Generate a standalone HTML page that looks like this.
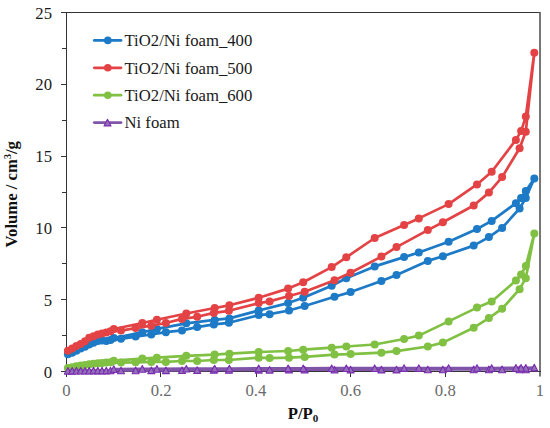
<!DOCTYPE html>
<html><head><meta charset="utf-8"><style>
html,body{margin:0;padding:0;background:#fff;}
body{width:550px;height:428px;overflow:hidden;font-family:"Liberation Serif",serif;}
svg{display:block;}
svg text{font-family:'Liberation Serif',serif;}
</style></head><body>
<svg width="550" height="428" viewBox="0 0 550 428">
<rect width="550" height="428" fill="#fff"/>
<g stroke="#333333" stroke-width="1" fill="none" shape-rendering="crispEdges">
<line x1="60.5" y1="12.5" x2="540" y2="12.5"/>
<line x1="66.5" y1="12" x2="66.5" y2="376.5"/>
</g>
<line x1="540" y1="12" x2="540" y2="376.5" stroke="#555" stroke-width="1.6"/>
<g stroke="#333333" stroke-width="1" shape-rendering="crispEdges"><line x1="60.5" y1="371.5" x2="66" y2="371.5"/><line x1="62" y1="335.5" x2="66" y2="335.5"/><line x1="60.5" y1="299.5" x2="66" y2="299.5"/><line x1="62" y1="263.5" x2="66" y2="263.5"/><line x1="60.5" y1="227.5" x2="66" y2="227.5"/><line x1="62" y1="192.5" x2="66" y2="192.5"/><line x1="60.5" y1="156.5" x2="66" y2="156.5"/><line x1="62" y1="120.5" x2="66" y2="120.5"/><line x1="60.5" y1="84.5" x2="66" y2="84.5"/><line x1="62" y1="48.5" x2="66" y2="48.5"/><line x1="60.5" y1="12.5" x2="66" y2="12.5"/></g>
<g stroke="#333333" stroke-width="1" shape-rendering="crispEdges"><line x1="66.5" y1="371" x2="66.5" y2="376.5"/><line x1="160.5" y1="371" x2="160.5" y2="376.5"/><line x1="256.5" y1="371" x2="256.5" y2="376.5"/><line x1="350.5" y1="371" x2="350.5" y2="376.5"/><line x1="445.5" y1="371" x2="445.5" y2="376.5"/></g>
<line x1="66" y1="371.5" x2="540.5" y2="371.5" stroke="#333333" stroke-width="1" shape-rendering="crispEdges"/>
<polyline points="67.9,354.3 72.2,352.8 76.4,350.7 80.7,348.5 85.0,346.8 89.2,344.5 93.5,342.8 97.8,341.1 102.0,340.6 106.3,340.9 110.5,339.9 121.0,338.8 135.6,336.6 151.3,334.5 165.9,332.2 182.0,330.4 197.2,327.1 213.8,324.4 228.9,322.8 258.7,315.1 269.6,314.2 289.0,310.5 304.7,306.0 334.5,296.8 350.6,292.1 381.4,281.0 396.5,274.9 427.8,260.9 442.9,256.2 473.7,245.6 488.9,237.1 502.1,227.9 519.6,208.5 525.8,198.0 534.3,178.4 525.8,191.0 521.1,198.0 515.9,203.2 491.7,220.9 477.0,229.0 448.6,241.8 418.8,252.5 404.1,257.1 374.7,266.4 346.3,278.2 331.7,285.8 303.2,297.8 288.1,303.1 258.7,310.5 229.4,318.4 214.7,319.9 186.3,323.3 156.9,328.9 142.3,332.2 113.8,338.0" fill="none" stroke="#1d7ac6" stroke-width="2.7" stroke-linejoin="round" stroke-linecap="round"/>
<g fill="#1d7ac6"><circle cx="67.9" cy="354.3" r="4.0"/><circle cx="72.2" cy="352.8" r="4.0"/><circle cx="76.4" cy="350.7" r="4.0"/><circle cx="80.7" cy="348.5" r="4.0"/><circle cx="85.0" cy="346.8" r="4.0"/><circle cx="89.2" cy="344.5" r="4.0"/><circle cx="93.5" cy="342.8" r="4.0"/><circle cx="97.8" cy="341.1" r="4.0"/><circle cx="102.0" cy="340.6" r="4.0"/><circle cx="106.3" cy="340.9" r="4.0"/><circle cx="110.5" cy="339.9" r="4.0"/><circle cx="121.0" cy="338.8" r="4.0"/><circle cx="135.6" cy="336.6" r="4.0"/><circle cx="151.3" cy="334.5" r="4.0"/><circle cx="165.9" cy="332.2" r="4.0"/><circle cx="182.0" cy="330.4" r="4.0"/><circle cx="197.2" cy="327.1" r="4.0"/><circle cx="213.8" cy="324.4" r="4.0"/><circle cx="228.9" cy="322.8" r="4.0"/><circle cx="258.7" cy="315.1" r="4.0"/><circle cx="269.6" cy="314.2" r="4.0"/><circle cx="289.0" cy="310.5" r="4.0"/><circle cx="304.7" cy="306.0" r="4.0"/><circle cx="334.5" cy="296.8" r="4.0"/><circle cx="350.6" cy="292.1" r="4.0"/><circle cx="381.4" cy="281.0" r="4.0"/><circle cx="396.5" cy="274.9" r="4.0"/><circle cx="427.8" cy="260.9" r="4.0"/><circle cx="442.9" cy="256.2" r="4.0"/><circle cx="473.7" cy="245.6" r="4.0"/><circle cx="488.9" cy="237.1" r="4.0"/><circle cx="502.1" cy="227.9" r="4.0"/><circle cx="519.6" cy="208.5" r="4.0"/><circle cx="525.8" cy="198.0" r="4.0"/><circle cx="534.3" cy="178.4" r="4.0"/><circle cx="525.8" cy="191.0" r="4.0"/><circle cx="521.1" cy="198.0" r="4.0"/><circle cx="515.9" cy="203.2" r="4.0"/><circle cx="491.7" cy="220.9" r="4.0"/><circle cx="477.0" cy="229.0" r="4.0"/><circle cx="448.6" cy="241.8" r="4.0"/><circle cx="418.8" cy="252.5" r="4.0"/><circle cx="404.1" cy="257.1" r="4.0"/><circle cx="374.7" cy="266.4" r="4.0"/><circle cx="346.3" cy="278.2" r="4.0"/><circle cx="331.7" cy="285.8" r="4.0"/><circle cx="303.2" cy="297.8" r="4.0"/><circle cx="288.1" cy="303.1" r="4.0"/><circle cx="258.7" cy="310.5" r="4.0"/><circle cx="229.4" cy="318.4" r="4.0"/><circle cx="214.7" cy="319.9" r="4.0"/><circle cx="186.3" cy="323.3" r="4.0"/><circle cx="156.9" cy="328.9" r="4.0"/><circle cx="142.3" cy="332.2" r="4.0"/><circle cx="113.8" cy="338.0" r="4.0"/></g>
<polyline points="67.9,350.7 72.2,348.5 76.4,345.9 80.7,343.9 85.0,341.3 89.2,337.8 93.5,336.3 97.8,334.5 102.0,333.4 106.3,332.4 110.5,331.3 121.0,330.6 135.6,328.1 151.3,325.7 165.9,323.0 182.0,318.9 197.2,316.8 213.8,312.9 228.9,310.8 258.7,303.1 269.6,301.4 289.0,296.0 304.7,291.8 334.5,280.3 350.6,272.8 381.4,256.6 396.5,247.1 427.8,230.1 442.9,222.3 473.7,205.5 488.9,192.6 502.1,177.1 519.6,148.2 525.8,131.7 534.3,52.7 525.8,116.6 521.1,131.1 515.9,139.9 491.7,171.8 477.0,184.4 448.6,204.1 418.8,218.4 404.1,225.0 374.7,238.0 346.3,257.3 331.7,267.1 303.2,282.2 288.1,288.6 258.7,297.8 229.4,305.3 214.7,308.0 186.3,313.5 156.9,319.7 142.3,323.0 113.8,329.0" fill="none" stroke="#e44345" stroke-width="2.7" stroke-linejoin="round" stroke-linecap="round"/>
<g fill="#e44345"><circle cx="67.9" cy="350.7" r="4.0"/><circle cx="72.2" cy="348.5" r="4.0"/><circle cx="76.4" cy="345.9" r="4.0"/><circle cx="80.7" cy="343.9" r="4.0"/><circle cx="85.0" cy="341.3" r="4.0"/><circle cx="89.2" cy="337.8" r="4.0"/><circle cx="93.5" cy="336.3" r="4.0"/><circle cx="97.8" cy="334.5" r="4.0"/><circle cx="102.0" cy="333.4" r="4.0"/><circle cx="106.3" cy="332.4" r="4.0"/><circle cx="110.5" cy="331.3" r="4.0"/><circle cx="121.0" cy="330.6" r="4.0"/><circle cx="135.6" cy="328.1" r="4.0"/><circle cx="151.3" cy="325.7" r="4.0"/><circle cx="165.9" cy="323.0" r="4.0"/><circle cx="182.0" cy="318.9" r="4.0"/><circle cx="197.2" cy="316.8" r="4.0"/><circle cx="213.8" cy="312.9" r="4.0"/><circle cx="228.9" cy="310.8" r="4.0"/><circle cx="258.7" cy="303.1" r="4.0"/><circle cx="269.6" cy="301.4" r="4.0"/><circle cx="289.0" cy="296.0" r="4.0"/><circle cx="304.7" cy="291.8" r="4.0"/><circle cx="334.5" cy="280.3" r="4.0"/><circle cx="350.6" cy="272.8" r="4.0"/><circle cx="381.4" cy="256.6" r="4.0"/><circle cx="396.5" cy="247.1" r="4.0"/><circle cx="427.8" cy="230.1" r="4.0"/><circle cx="442.9" cy="222.3" r="4.0"/><circle cx="473.7" cy="205.5" r="4.0"/><circle cx="488.9" cy="192.6" r="4.0"/><circle cx="502.1" cy="177.1" r="4.0"/><circle cx="519.6" cy="148.2" r="4.0"/><circle cx="525.8" cy="131.7" r="4.0"/><circle cx="534.3" cy="52.7" r="4.0"/><circle cx="525.8" cy="116.6" r="4.0"/><circle cx="521.1" cy="131.1" r="4.0"/><circle cx="515.9" cy="139.9" r="4.0"/><circle cx="491.7" cy="171.8" r="4.0"/><circle cx="477.0" cy="184.4" r="4.0"/><circle cx="448.6" cy="204.1" r="4.0"/><circle cx="418.8" cy="218.4" r="4.0"/><circle cx="404.1" cy="225.0" r="4.0"/><circle cx="374.7" cy="238.0" r="4.0"/><circle cx="346.3" cy="257.3" r="4.0"/><circle cx="331.7" cy="267.1" r="4.0"/><circle cx="303.2" cy="282.2" r="4.0"/><circle cx="288.1" cy="288.6" r="4.0"/><circle cx="258.7" cy="297.8" r="4.0"/><circle cx="229.4" cy="305.3" r="4.0"/><circle cx="214.7" cy="308.0" r="4.0"/><circle cx="186.3" cy="313.5" r="4.0"/><circle cx="156.9" cy="319.7" r="4.0"/><circle cx="142.3" cy="323.0" r="4.0"/><circle cx="113.8" cy="329.0" r="4.0"/></g>
<polyline points="67.9,367.9 72.2,367.2 76.4,366.3 80.7,365.5 85.0,364.9 89.2,364.3 93.5,363.7 97.8,363.2 102.0,362.9 106.3,362.6 110.5,362.3 121.0,362.6 135.6,362.3 151.3,361.9 165.9,361.9 182.0,361.0 197.2,361.0 213.8,360.0 228.9,360.0 258.7,357.7 269.6,358.1 289.0,357.7 304.7,356.9 334.5,354.6 350.6,354.1 381.4,352.7 396.5,351.1 427.8,346.5 442.9,342.6 473.7,327.7 488.9,318.1 502.1,308.7 519.6,289.2 525.8,278.2 534.3,233.6 525.8,266.0 521.1,274.6 515.9,280.6 491.7,301.6 477.0,307.6 448.6,321.4 418.8,335.6 404.1,339.0 374.7,344.5 346.3,346.5 331.7,347.7 303.2,349.7 288.1,351.0 258.7,352.0 229.4,353.7 214.7,354.6 186.3,355.8 156.9,357.7 142.3,358.6 113.8,360.7" fill="none" stroke="#80c043" stroke-width="2.7" stroke-linejoin="round" stroke-linecap="round"/>
<g fill="#80c043"><circle cx="67.9" cy="367.9" r="4.0"/><circle cx="72.2" cy="367.2" r="4.0"/><circle cx="76.4" cy="366.3" r="4.0"/><circle cx="80.7" cy="365.5" r="4.0"/><circle cx="85.0" cy="364.9" r="4.0"/><circle cx="89.2" cy="364.3" r="4.0"/><circle cx="93.5" cy="363.7" r="4.0"/><circle cx="97.8" cy="363.2" r="4.0"/><circle cx="102.0" cy="362.9" r="4.0"/><circle cx="106.3" cy="362.6" r="4.0"/><circle cx="110.5" cy="362.3" r="4.0"/><circle cx="121.0" cy="362.6" r="4.0"/><circle cx="135.6" cy="362.3" r="4.0"/><circle cx="151.3" cy="361.9" r="4.0"/><circle cx="165.9" cy="361.9" r="4.0"/><circle cx="182.0" cy="361.0" r="4.0"/><circle cx="197.2" cy="361.0" r="4.0"/><circle cx="213.8" cy="360.0" r="4.0"/><circle cx="228.9" cy="360.0" r="4.0"/><circle cx="258.7" cy="357.7" r="4.0"/><circle cx="269.6" cy="358.1" r="4.0"/><circle cx="289.0" cy="357.7" r="4.0"/><circle cx="304.7" cy="356.9" r="4.0"/><circle cx="334.5" cy="354.6" r="4.0"/><circle cx="350.6" cy="354.1" r="4.0"/><circle cx="381.4" cy="352.7" r="4.0"/><circle cx="396.5" cy="351.1" r="4.0"/><circle cx="427.8" cy="346.5" r="4.0"/><circle cx="442.9" cy="342.6" r="4.0"/><circle cx="473.7" cy="327.7" r="4.0"/><circle cx="488.9" cy="318.1" r="4.0"/><circle cx="502.1" cy="308.7" r="4.0"/><circle cx="519.6" cy="289.2" r="4.0"/><circle cx="525.8" cy="278.2" r="4.0"/><circle cx="534.3" cy="233.6" r="4.0"/><circle cx="525.8" cy="266.0" r="4.0"/><circle cx="521.1" cy="274.6" r="4.0"/><circle cx="515.9" cy="280.6" r="4.0"/><circle cx="491.7" cy="301.6" r="4.0"/><circle cx="477.0" cy="307.6" r="4.0"/><circle cx="448.6" cy="321.4" r="4.0"/><circle cx="418.8" cy="335.6" r="4.0"/><circle cx="404.1" cy="339.0" r="4.0"/><circle cx="374.7" cy="344.5" r="4.0"/><circle cx="346.3" cy="346.5" r="4.0"/><circle cx="331.7" cy="347.7" r="4.0"/><circle cx="303.2" cy="349.7" r="4.0"/><circle cx="288.1" cy="351.0" r="4.0"/><circle cx="258.7" cy="352.0" r="4.0"/><circle cx="229.4" cy="353.7" r="4.0"/><circle cx="214.7" cy="354.6" r="4.0"/><circle cx="186.3" cy="355.8" r="4.0"/><circle cx="156.9" cy="357.7" r="4.0"/><circle cx="142.3" cy="358.6" r="4.0"/><circle cx="113.8" cy="360.7" r="4.0"/></g>
<polyline points="67.9,370.8 72.2,370.8 76.4,370.7 80.7,370.7 85.0,370.7 89.2,370.7 93.5,370.6 97.8,370.6 102.0,370.6 106.3,370.6 110.5,370.5 121.0,370.5 135.6,370.4 151.3,370.3 165.9,370.3 182.0,370.2 197.2,370.1 213.8,370.0 228.9,369.9 258.7,369.8 269.6,369.8 289.0,369.7 304.7,369.7 334.5,369.7 350.6,369.6 381.4,369.6 396.5,369.6 427.8,369.5 442.9,369.5 473.7,369.4 488.9,369.4 502.1,369.4 519.6,369.4 525.8,369.4 534.3,367.6 525.8,367.9 521.1,367.9 515.9,367.9 491.7,368.0 477.0,368.0 448.6,368.0 418.8,368.1 404.1,368.1 374.7,368.2 346.3,368.2 331.7,368.2 303.2,368.3 288.1,368.3 258.7,368.3 229.4,368.5 214.7,368.6 186.3,368.7 156.9,368.9 142.3,368.9 113.8,369.1" fill="none" stroke="#8055a8" stroke-width="2.7" stroke-linejoin="round" stroke-linecap="round"/>
<g fill="#9470b8" stroke="#7a2db0" stroke-width="1.1" stroke-linejoin="round"><path d="M67.9,367.5L71.4,374.1L64.4,374.1Z"/><path d="M72.2,367.5L75.7,374.1L68.7,374.1Z"/><path d="M76.4,367.4L79.9,374.0L72.9,374.0Z"/><path d="M80.7,367.4L84.2,374.0L77.2,374.0Z"/><path d="M85.0,367.4L88.5,374.0L81.5,374.0Z"/><path d="M89.2,367.4L92.7,374.0L85.7,374.0Z"/><path d="M93.5,367.3L97.0,373.9L90.0,373.9Z"/><path d="M97.8,367.3L101.3,373.9L94.3,373.9Z"/><path d="M102.0,367.3L105.5,373.9L98.5,373.9Z"/><path d="M106.3,367.3L109.8,373.9L102.8,373.9Z"/><path d="M110.5,367.2L114.0,373.8L107.0,373.8Z"/><path d="M121.0,367.2L124.5,373.8L117.5,373.8Z"/><path d="M135.6,367.1L139.1,373.7L132.1,373.7Z"/><path d="M151.3,367.0L154.8,373.6L147.8,373.6Z"/><path d="M165.9,367.0L169.4,373.6L162.4,373.6Z"/><path d="M182.0,366.9L185.5,373.5L178.5,373.5Z"/><path d="M197.2,366.8L200.7,373.4L193.7,373.4Z"/><path d="M213.8,366.7L217.3,373.3L210.3,373.3Z"/><path d="M228.9,366.6L232.4,373.2L225.4,373.2Z"/><path d="M258.7,366.5L262.2,373.1L255.2,373.1Z"/><path d="M269.6,366.5L273.1,373.1L266.1,373.1Z"/><path d="M289.0,366.4L292.5,373.0L285.5,373.0Z"/><path d="M304.7,366.4L308.2,373.0L301.2,373.0Z"/><path d="M334.5,366.4L338.0,373.0L331.0,373.0Z"/><path d="M350.6,366.3L354.1,372.9L347.1,372.9Z"/><path d="M381.4,366.3L384.9,372.9L377.9,372.9Z"/><path d="M396.5,366.3L400.0,372.9L393.0,372.9Z"/><path d="M427.8,366.2L431.3,372.8L424.3,372.8Z"/><path d="M442.9,366.2L446.4,372.8L439.4,372.8Z"/><path d="M473.7,366.1L477.2,372.7L470.2,372.7Z"/><path d="M488.9,366.1L492.4,372.7L485.4,372.7Z"/><path d="M502.1,366.1L505.6,372.7L498.6,372.7Z"/><path d="M519.6,366.1L523.1,372.7L516.1,372.7Z"/><path d="M525.8,366.1L529.3,372.7L522.3,372.7Z"/><path d="M534.3,364.3L537.8,370.9L530.8,370.9Z"/><path d="M525.8,364.6L529.3,371.2L522.3,371.2Z"/><path d="M521.1,364.6L524.6,371.2L517.6,371.2Z"/><path d="M515.9,364.6L519.4,371.2L512.4,371.2Z"/><path d="M491.7,364.7L495.2,371.3L488.2,371.3Z"/><path d="M477.0,364.7L480.5,371.3L473.5,371.3Z"/><path d="M448.6,364.7L452.1,371.3L445.1,371.3Z"/><path d="M418.8,364.8L422.3,371.4L415.3,371.4Z"/><path d="M404.1,364.8L407.6,371.4L400.6,371.4Z"/><path d="M374.7,364.9L378.2,371.5L371.2,371.5Z"/><path d="M346.3,364.9L349.8,371.5L342.8,371.5Z"/><path d="M331.7,364.9L335.2,371.5L328.2,371.5Z"/><path d="M303.2,365.0L306.8,371.6L299.8,371.6Z"/><path d="M288.1,365.0L291.6,371.6L284.6,371.6Z"/><path d="M258.7,365.0L262.2,371.6L255.2,371.6Z"/><path d="M229.4,365.2L232.9,371.8L225.9,371.8Z"/><path d="M214.7,365.3L218.2,371.9L211.2,371.9Z"/><path d="M186.3,365.4L189.8,372.0L182.8,372.0Z"/><path d="M156.9,365.6L160.4,372.2L153.4,372.2Z"/><path d="M142.3,365.6L145.8,372.2L138.8,372.2Z"/><path d="M113.8,365.8L117.3,372.4L110.3,372.4Z"/></g>
<g font-family="Liberation Serif" font-size="16.7" fill="#1a1a1a"><text x="52" y="377.5" text-anchor="end">0</text><text x="52" y="305.7" text-anchor="end">5</text><text x="52" y="233.9" text-anchor="end">10</text><text x="52" y="162.1" text-anchor="end">15</text><text x="52" y="90.3" text-anchor="end">20</text><text x="52" y="18.5" text-anchor="end">25</text></g>
<g font-family="Liberation Serif" font-size="16.7" fill="#6a6a6a"><text x="66.5" y="396" text-anchor="middle">0</text><text x="161.2" y="396" text-anchor="middle">0.2</text><text x="255.9" y="396" text-anchor="middle">0.4</text><text x="350.6" y="396" text-anchor="middle">0.6</text><text x="445.3" y="396" text-anchor="middle">0.8</text><text x="540.0" y="396" text-anchor="middle">1</text></g>
<text x="303" y="418.7" text-anchor="middle" font-family="Liberation Serif" font-size="16.7" font-weight="bold" fill="#111">P/P<tspan font-size="11" dy="3">0</tspan></text>
<text transform="translate(17.1,194.3) rotate(-90)" text-anchor="middle" font-family="Liberation Serif" font-size="16.7" font-weight="bold" fill="#111">Volume / cm<tspan font-size="10" dy="-6.5">3</tspan><tspan dy="6.5">/g</tspan></text>
<line x1="94.3" y1="40.4" x2="121" y2="40.4" stroke="#1d7ac6" stroke-width="2.8" stroke-linecap="round"/>
<circle cx="107.8" cy="40.4" r="3.8" fill="#1d7ac6"/>
<text x="124.5" y="46.2" font-family="Liberation Serif" font-size="16.7" fill="#1a1a1a">TiO2/Ni foam_400</text>
<line x1="94.3" y1="67.8" x2="121" y2="67.8" stroke="#e44345" stroke-width="2.8" stroke-linecap="round"/>
<circle cx="107.8" cy="67.8" r="3.8" fill="#e44345"/>
<text x="124.5" y="73.6" font-family="Liberation Serif" font-size="16.7" fill="#1a1a1a">TiO2/Ni foam_500</text>
<line x1="94.3" y1="95.2" x2="121" y2="95.2" stroke="#80c043" stroke-width="2.8" stroke-linecap="round"/>
<circle cx="107.8" cy="95.2" r="3.8" fill="#80c043"/>
<text x="124.5" y="101.0" font-family="Liberation Serif" font-size="16.7" fill="#1a1a1a">TiO2/Ni foam_600</text>
<line x1="94.3" y1="122.6" x2="121" y2="122.6" stroke="#8055a8" stroke-width="2.8" stroke-linecap="round"/>
<g fill="#9470b8" stroke="#7a2db0" stroke-width="1.1" stroke-linejoin="round"><path d="M107.5,119.3L111.0,125.9L104.0,125.9Z"/></g>
<text x="124.5" y="128.4" font-family="Liberation Serif" font-size="16.7" fill="#1a1a1a">Ni foam</text>
</svg>
</body></html>
